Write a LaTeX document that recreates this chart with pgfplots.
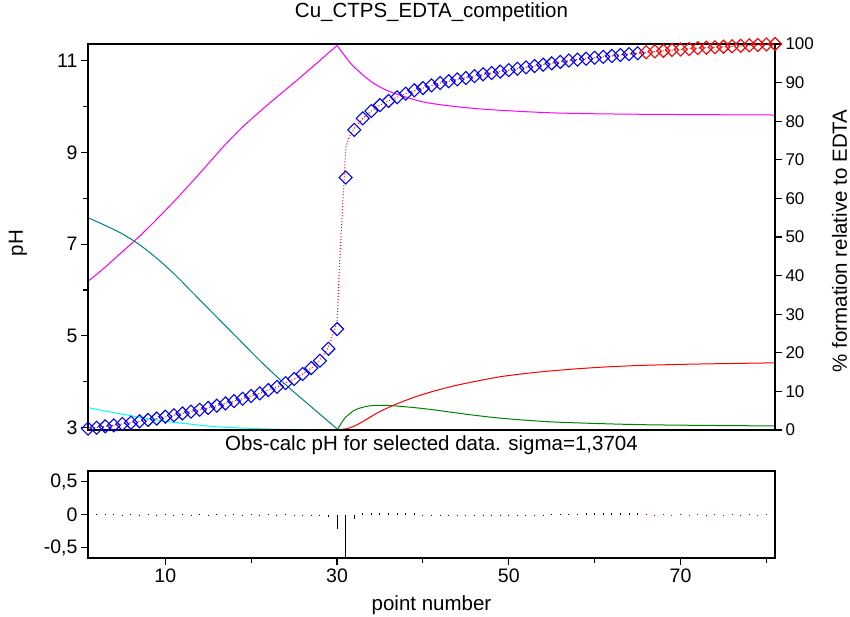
\documentclass[border=0pt]{standalone}
\usepackage{fontspec}
\setmainfont{Liberation Sans}
\usepackage{pgfplots}
\pgfplotsset{compat=1.18}
\usepackage{pgfplotstable}

\definecolor{tealc}{RGB}{0,128,128}
\definecolor{greenc}{RGB}{0,128,0}
\definecolor{magc}{RGB}{255,0,255}
\definecolor{cyanc}{RGB}{0,255,255}
\definecolor{bluec}{RGB}{0,0,255}
\definecolor{redc}{RGB}{255,0,0}
\definecolor{purp}{RGB}{150,0,150}

% observed pH, points 1-65 (selected) and 66-81
\pgfplotstableread{
n pH
1 2.98
2 3.00
3 3.03
4 3.05
5 3.08
6 3.11
7 3.14
8 3.17
9 3.20
10 3.24
11 3.27
12 3.31
13 3.35
14 3.39
15 3.43
16 3.48
17 3.53
18 3.58
19 3.63
20 3.69
21 3.75
22 3.82
23 3.89
24 3.97
25 4.06
26 4.17
27 4.30
28 4.46
29 4.72
30 5.15
31 8.45
32 9.49
33 9.74
34 9.90
35 10.03
36 10.12
37 10.20
38 10.28
39 10.35
40 10.40
41 10.46
42 10.51
43 10.55
44 10.59
45 10.62
46 10.66
47 10.70
48 10.73
49 10.76
50 10.79
51 10.82
52 10.85
53 10.88
54 10.91
55 10.94
56 10.97
57 11.00
58 11.02
59 11.04
60 11.06
61 11.08
62 11.10
63 11.12
64 11.14
65 11.16
}\obsA
\pgfplotstableread{
n pH
66 11.18
67 11.20
68 11.21
69 11.23
70 11.24
71 11.25
72 11.27
73 11.28
74 11.29
75 11.30
76 11.31
77 11.32
78 11.33
79 11.34
80 11.35
81 11.36
}\obsB
% calculated pH curve
\pgfplotstableread{
n pH
1 2.98
3 3.03
5 3.08
7 3.14
9 3.20
11 3.27
13 3.35
15 3.43
17 3.53
19 3.63
21 3.75
23 3.89
25 4.06
26 4.17
27 4.30
28 4.47
29 4.75
30 5.30
30.15 5.90
30.3 6.60
30.5 7.30
30.7 8.00
30.85 8.50
31 9.10
31.3 9.28
31.6 9.40
32 9.52
33 9.74
34 9.90
35 10.03
36 10.12
38 10.28
40 10.40
42 10.51
44 10.59
46 10.66
48 10.73
50 10.79
52 10.85
54 10.91
56 10.97
58 11.02
60 11.06
62 11.10
64 11.14
66 11.18
68 11.21
70 11.24
72 11.27
74 11.29
76 11.31
78 11.33
81 11.36
}\calc

\pgfplotsset{
  base/.style={scale only axis, width=687pt, xmin=1, xmax=81,
    axis line style={line width=1.2pt},
    every tick/.style={line width=1.1pt, black},
    tick align=outside, major tick length=7pt, minor tick length=4.5pt,
    tick label style={font=\fontsize{19.5}{19.5}\selectfont},
    /pgf/number format/assume math mode=true}
}

\begin{document}
\begin{tikzpicture}
\useasboundingbox (-88pt,-186pt) rectangle (762pt,430pt);

% species distribution, right axis
\begin{axis}[base, at={(0,0)}, anchor=south west, height=386pt,
  ymin=0, ymax=100, ytick={0,10,...,100},
  axis y line*=right, axis x line=none, xtick=\empty,
  yticklabel style={font=\fontsize{17}{17}\selectfont},
  ylabel={\% formation relative to EDTA},
  ylabel style={at={(axis description cs:1.094,0.49)}, anchor=center,
    font=\fontsize{20.5}{20.5}\selectfont}]
\addplot[magc, line width=1pt, smooth] coordinates {
(1,38.5) (3,42.2) (5,46.2) (7,50.2) (9,54.6) (11,59.2) (13,64) (15,69)
(17,74) (19,78.5) (21,82.5) (23,86.3) (25,90) (27,93.8) (29,97.7) (30,99.6)};
\addplot[magc, line width=1pt, smooth] coordinates {
(30,99.6) (31,96.6) (32,94) (34,90.2) (36,87.8) (40,85) (45,83.5) (50,82.7)
(56,82.1) (65,81.8) (81,81.6)};
\addplot[tealc, line width=1pt, smooth] coordinates {
(1,55) (3,53) (5,50.8) (7,48) (9,44.5) (11,40.5) (13,36) (15,31.5) (17,27)
(19,22.5) (21,18) (23,13.8) (25,9.8) (27,6) (29,2.2) (30,0.3)};
\addplot[cyanc, line width=1pt, smooth] coordinates {
(1,5.8) (3,4.9) (5,4.1) (7,3.3) (9,2.6) (11,2.0) (13,1.5) (15,1.0) (17,0.7)
(20,0.4) (23,0.2) (26,0.1) (30,0.05)};
\addplot[greenc, line width=1pt, smooth] coordinates {
(30,0) (30.5,1.8) (31,3.3) (32,5.1) (33,5.9) (34,6.3) (35.5,6.4) (37,6.2)
(39,5.8) (41,5.3) (43,4.7) (45,4.1) (48,3.3) (51,2.7) (55,2.1) (60,1.7)
(65,1.4) (70,1.25) (75,1.15) (81,1.05)};
\addplot[redc, line width=1pt, smooth] coordinates {
(30,0) (31,0.3) (32,1.0) (33,2.2) (35,4.8) (37,6.8) (39,8.5) (41,9.9)
(43,11.1) (45,12.1) (49,13.8) (53,14.9) (57,15.7) (61,16.3) (65,16.7)
(70,17.0) (75,17.2) (81,17.4)};
\end{axis}

% pH, left axis
\begin{axis}[base, at={(0,0)}, anchor=south west, height=386pt,
  ymin=2.95, ymax=11.36, ytick={3,5,7,9,11}, minor ytick={4,6,8,10},
  xtick=\empty, ytick pos=left, clip=false,
  title={Cu\_CTPS\_EDTA\_competition},
  title style={at={(axis description cs:0.5,1.067)}, anchor=center,
    font=\fontsize{20.5}{20.5}\selectfont},
  ylabel={pH},
  ylabel style={at={(axis description cs:-0.102,0.484)}, anchor=center,
    font=\fontsize{20.5}{20.5}\selectfont}]
\addplot[redc, line width=1pt, dash pattern=on 1pt off 2pt] table[x=n, y=pH] {\calc};
\addplot[only marks, mark=square, mark size=4.6pt,
  mark options={rotate=45, bluec, line width=1.1pt}] table[x=n, y=pH] {\obsA};
\addplot[only marks, mark=square, mark size=4.6pt,
  mark options={rotate=45, redc, line width=1.1pt}] table[x=n, y=pH] {\obsB};
\end{axis}

% residuals
\begin{axis}[base, at={(0,-41pt)}, anchor=north west, height=87pt,
  ymin=-0.66, ymax=0.66, ytick={-0.5,0,0.5},
  yticklabels={{-0,5},{0},{0,5}},
  xtick={10,30,50,70}, minor xtick={20,40,60,80},
  xtick pos=bottom, ytick pos=left,
  title={Obs-calc pH for selected data. sigma=1,3704},
  title style={at={(axis description cs:0.5,1.23)}, anchor=center,
    font=\fontsize{20.5}{20.5}\selectfont},
  xlabel={point number},
  xlabel style={at={(axis description cs:0.5,-0.54)}, anchor=center,
    font=\fontsize{20.5}{20.5}\selectfont}]
\addplot[ycomb, black, line width=1pt, no marks] coordinates {
(1,0.015) (2,0.012) (3,0.01) (4,0.012) (5,-0.012) (6,0.01) (7,-0.012)
(8,0.012) (9,-0.01) (10,0.012) (11,-0.012) (12,0.01) (13,-0.012) (14,0.012)
(15,-0.015) (16,0.012) (17,-0.015) (18,0.015) (19,-0.015) (20,0.012)
(21,-0.018) (22,0.015) (23,-0.02) (24,0.015) (25,-0.022) (26,-0.02)
(27,-0.025) (28,-0.03) (29,-0.04) (30,-0.217) (31,-1.0) (32,-0.075)
(33,0.02) (34,0.025) (35,0.03) (36,0.03) (37,0.025) (38,0.02) (39,0.02)
(40,-0.015) (41,-0.015) (42,-0.018) (43,-0.018) (44,-0.02) (45,-0.02)
(46,-0.02) (47,-0.02) (48,-0.018) (49,-0.018) (50,-0.015) (51,-0.015)
(52,-0.015) (53,-0.012) (54,-0.012) (55,0.012) (56,0.012) (57,0.015)
(58,0.015) (59,0.018) (60,0.018) (61,0.02) (62,0.02) (63,0.02) (64,0.022)
(65,0.022)};
\addplot[ycomb, purp, line width=1pt, no marks] coordinates {
(66,0.01) (67,-0.01) (68,0.01) (69,-0.01) (70,0.01) (71,-0.01) (72,0.01)
(73,-0.01) (74,0.01) (75,-0.01) (76,0.01) (77,-0.01) (78,0.01) (79,-0.01)
(80,0.01) (81,-0.01)};
\end{axis}
\end{tikzpicture}
\end{document}
